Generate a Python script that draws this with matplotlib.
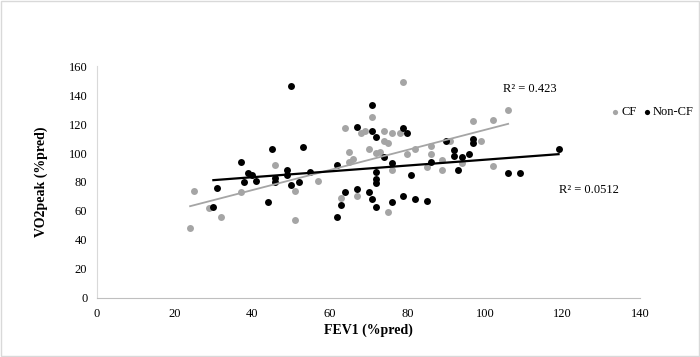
import numpy as np
import matplotlib
matplotlib.use("Agg")
import matplotlib.pyplot as plt
from matplotlib.patches import Rectangle

plt.rcParams['font.family'] = ['Liberation Serif', 'DejaVu Serif']

# CF group (FEV1 %pred, VO2peak %pred)
cf_fev1 = [24, 25, 29, 32, 37, 46, 51, 51, 57, 63, 64, 65, 65, 66, 67, 68, 69, 70, 71, 72,
           73, 74, 74, 75, 75, 76, 76, 78, 79, 80, 82, 85, 86, 86, 89, 89, 91, 94, 97, 99,
           102, 102, 106]
cf_vo2 = [48, 74, 62, 56, 73, 92, 74, 54, 81, 69, 117, 101, 94, 96, 70, 114, 115, 103, 125, 100,
          101, 115, 108, 107, 59, 114, 88, 114, 149, 99, 103, 90, 105, 99, 95, 88, 108, 93, 122, 108,
          123, 91, 130]

# Non-CF group
ncf_fev1 = [30, 31, 37, 38, 39, 40, 41, 44, 45, 46, 46, 49, 49, 50, 50, 52, 53, 55, 62, 62,
            63, 64, 67, 67, 70, 71, 71, 71, 72, 72, 72, 72, 72, 74, 76, 76, 79, 79, 80, 81,
            82, 85, 86, 90, 92, 92, 93, 94, 96, 97, 97, 106, 109, 119]
ncf_vo2 = [63, 76, 94, 80, 86, 85, 81, 66, 103, 83, 80, 88, 85, 146, 78, 80, 104, 87, 92, 56,
           64, 73, 118, 75, 73, 133, 115, 68, 111, 87, 82, 79, 63, 97, 93, 66, 117, 70, 114, 85,
           68, 67, 94, 108, 102, 98, 88, 97, 99, 110, 107, 86, 86, 103]

r2_labels = ["R\u00b2 = 0.423", "R\u00b2 = 0.0512"]

gray = "#A5A5A5"

fig = plt.figure(figsize=(7, 3.57), dpi=100)
ax = fig.add_axes([0.1386, 0.1653, 0.7757, 0.6498])

ax.scatter(cf_fev1, cf_vo2, s=25, color=gray, linewidths=0, label="CF", zorder=3)
ax.scatter(ncf_fev1, ncf_vo2, s=25, color="black", linewidths=0, label="Non-CF", zorder=4)

# linear trend lines over each group's range
for xs, ys, col, lw in [(cf_fev1, cf_vo2, gray, 1.3), (ncf_fev1, ncf_vo2, "black", 1.6)]:
    xs = np.array(xs, float)
    ys = np.array(ys, float)
    m, b = np.polyfit(xs, ys, 1)
    xx = np.array([xs.min(), xs.max()])
    ax.plot(xx, m * xx + b, color=col, lw=lw, zorder=5)

ax.text(111.6, 144, r2_labels[0], fontsize=9, ha="center", va="center")
ax.text(126.8, 74.5, r2_labels[1], fontsize=9, ha="center", va="center")

ax.set_xlim(0, 140)
ax.set_ylim(0, 160)
ax.set_xticks(range(0, 141, 20))
ax.set_yticks(range(0, 161, 20))
ax.tick_params(length=0, labelsize=9, pad=7)
for s in ["top", "right"]:
    ax.spines[s].set_visible(False)
ax.spines["left"].set_color("#D9D9D9")
ax.spines["bottom"].set_color("#BFBFBF")

ax.set_xlabel("FEV1 (%pred)", fontsize=10, fontweight="bold", labelpad=3)
ax.set_ylabel("VO2peak (%pred)", fontsize=10, fontweight="bold", labelpad=15)

fig.legend(loc="center", bbox_to_anchor=(0.933, 0.686), ncol=2, frameon=False,
           fontsize=9, handlelength=0.4, handletextpad=0.28, columnspacing=0.6,
           markerscale=0.75, borderpad=0, borderaxespad=0, bbox_transform=fig.transFigure)

fig.patches.append(Rectangle((0.001, 0.002), 0.997, 0.995, transform=fig.transFigure,
                             fill=False, edgecolor="#D9D9D9", lw=1))

fig.savefig("out.png", dpi=100)
